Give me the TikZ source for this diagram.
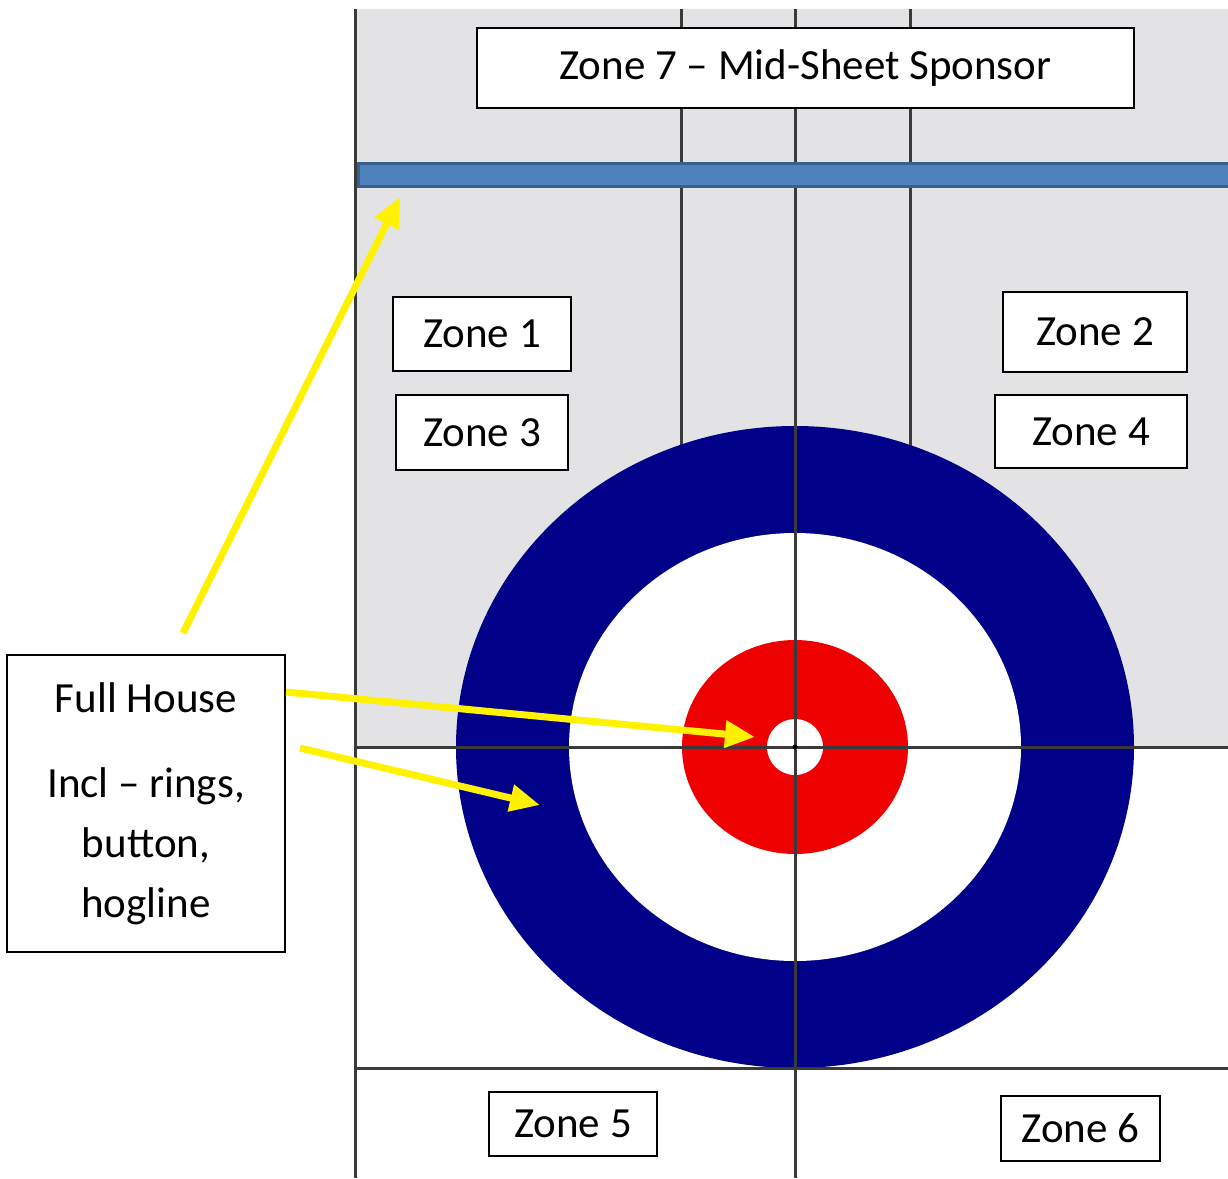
\documentclass[tikz,border=0pt]{standalone}
\usepackage{fontspec}
\setmainfont{Carlito}
\usetikzlibrary{arrows.meta}
\definecolor{sheetgray}{HTML}{E3E3E5}
\definecolor{linegray}{HTML}{3A3A3A}
\definecolor{ringblue}{HTML}{000088}
\definecolor{ringred}{HTML}{EE0000}
\definecolor{hogfill}{HTML}{4F81BD}
\definecolor{hogedge}{HTML}{3A5F8B}
\begin{document}
\begin{tikzpicture}[x=1pt, y=-1pt, >={Triangle[length=30pt,width=26pt]},
	zone/.style={draw=black, line width=2pt, fill=white, inner sep=0pt, font=\fontsize{43}{50}\selectfont},
	sheetline/.style={draw=linegray, line width=3pt},
	pointer/.style={draw=yellow, fill=yellow, line width=7pt, ->}]
		\useasboundingbox (0,0) rectangle (1228,1178);
		%sheet
		\fill[sheetgray] (355,9) rectangle (1228,747);
		\draw[sheetline] (681,9) -- (681,460);
		\draw[sheetline] (910,9) -- (910,460);
		%house
		\fill[ringblue] (795,747) ellipse [x radius=339, y radius=321];
		\fill[white] (795,747) ellipse [x radius=226, y radius=214];
		\fill[ringred] (795,747) ellipse [x radius=113, y radius=107];
		\fill[white] (795,747) ellipse [x radius=28, y radius=28];
		\draw[sheetline] (355,9) -- (355,1178);
		\draw[sheetline] (795,9) -- (795,1178);
		\draw[sheetline] (355,747) -- (1228,747);
		\draw[sheetline] (355,1068) -- (1228,1068);
		\fill[black] (795,747) circle (2.5);
		%hogline
		\draw[hogedge, fill=hogfill, line width=3pt] (358,163) rectangle (1229,186);
		%zones
		\node[zone, minimum width=657pt, minimum height=80pt] (zone7) at (805.5,68) {Zone 7 – Mid-Sheet Sponsor};
		\node[zone, minimum width=178pt, minimum height=74pt] (zone1) at (482,334) {Zone 1};
		\node[zone, minimum width=184pt, minimum height=80pt] (zone2) at (1095,332) {Zone 2};
		\node[zone, minimum width=172pt, minimum height=75pt] (zone3) at (482,432.5) {Zone 3};
		\node[zone, minimum width=192pt, minimum height=73pt] (zone4) at (1091,431.5) {Zone 4};
		\node[zone, minimum width=168pt, minimum height=64pt] (zone5) at (573,1124) {Zone 5};
		\node[zone, minimum width=159pt, minimum height=65pt] (zone6) at (1080.5,1128.5) {Zone 6};
		\node[zone, minimum width=278pt, minimum height=297pt, align=center, font=\fontsize{43}{60}\selectfont] (house) at (146,803.5) {Full House\\[25pt]Incl – rings,\\button,\\hogline};
		%arrows
		\coordinate (hogtip) at (400,197);
		\coordinate (buttontip) at (755,737);
		\coordinate (ringtip) at (540,805);
		\coordinate (hogtail) at (183,633);
		\coordinate (ringtail) at (300,748);
		\draw[pointer] (hogtail) -- (hogtip);
		\draw[pointer] (house.east |- 0,692) -- (buttontip);
		\draw[pointer] (ringtail) -- (ringtip);
\end{tikzpicture}
\end{document}
